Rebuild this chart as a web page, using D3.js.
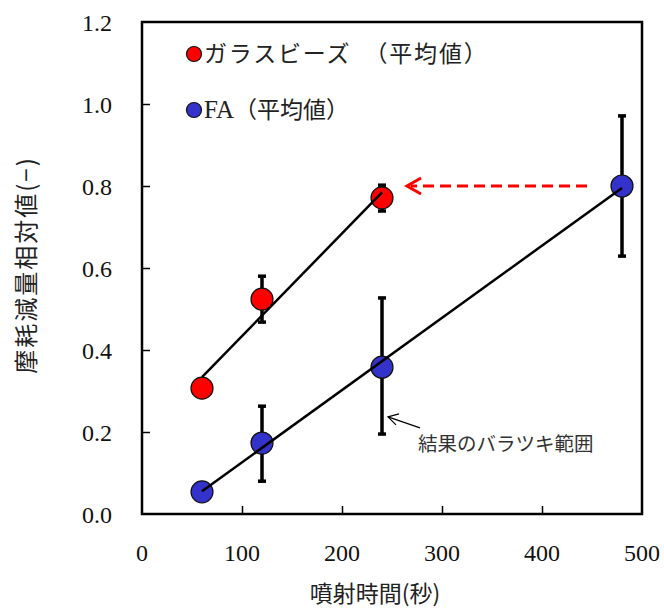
<!DOCTYPE html>
<html>
<head>
<meta charset="utf-8">
<script src="https://cdn.jsdelivr.net/npm/d3@7"></script>
<style>
  body { margin: 0; background: #fff; }
  svg { display: block; }
</style>
</head>
<body>
<svg id="chart"></svg>
<script>
// data
const glassTime = [60, 120, 240];
const glassMean = [0.307, 0.524, 0.771];
const glassLow  = [null, 0.468, 0.739];
const glassHigh = [null, 0.580, 0.802];

const faTime = [60, 120, 240, 480];
const faMean = [0.054, 0.173, 0.358, 0.800];
const faLow  = [null, 0.080, 0.195, 0.629];
const faHigh = [null, 0.263, 0.527, 0.971];

const xTicks = [0, 100, 200, 300, 400, 500];
const yTicks = [0, 0.2, 0.4, 0.6, 0.8, 1.0, 1.2];

const legendLabels = ["ガラスビーズ　（平均値）", "FA（平均値）"];
const xTitle = "噴射時間(秒)";
const yTitle = "摩耗減量相対値(−)";
const noteText = "結果のバラツキ範囲";

const W = 664, H = 608;
const margin = { left: 142, right: 22, top: 22, bottom: 94 };

const svg = d3.select("#chart").attr("width", W).attr("height", H);

const x = d3.scaleLinear().domain([0, 500]).range([margin.left, W - margin.right]);
const y = d3.scaleLinear().domain([0, 1.2]).range([H - margin.bottom, margin.top]);

const serif = "'Liberation Serif', 'DejaVu Serif', serif";
const jp = "'Noto Sans CJK JP', sans-serif";

// frame
svg.append("rect")
    .attr("x", x(0)).attr("y", y(1.2))
    .attr("width", x(500) - x(0)).attr("height", y(0) - y(1.2))
    .attr("fill", "none").attr("stroke", "#000").attr("stroke-width", 2.5);

// inward ticks
svg.append("g")
    .attr("transform", `translate(0,${y(0)})`)
    .call(d3.axisTop(x).tickValues(xTicks.slice(1, -1)).tickSize(8).tickFormat(""))
    .call(g => g.select(".domain").remove())
    .selectAll("line").attr("stroke-width", 1.5);

svg.append("g")
    .attr("transform", `translate(${x(0)},0)`)
    .call(d3.axisRight(y).tickValues(yTicks.slice(1, -1)).tickSize(8).tickFormat(""))
    .call(g => g.select(".domain").remove())
    .selectAll("line").attr("stroke-width", 1.5);

// tick labels
svg.append("g").selectAll("text")
    .data(xTicks).join("text")
    .attr("x", d => x(d)).attr("y", y(0) + 47)
    .attr("text-anchor", "middle")
    .attr("font-family", serif).attr("font-size", 24).attr("fill", "#111")
    .text(d => d);

svg.append("g").selectAll("text")
    .data(yTicks).join("text")
    .attr("x", x(0) - 30).attr("y", d => y(d) + 9)
    .attr("text-anchor", "end")
    .attr("font-family", serif).attr("font-size", 24).attr("fill", "#111")
    .text(d => d.toFixed(1));

// axis titles
svg.append("text")
    .attr("x", 375).attr("y", 602)
    .attr("text-anchor", "middle")
    .attr("font-family", jp).attr("font-size", 23).attr("fill", "#222")
    .text(xTitle);

svg.append("text")
    .attr("transform", `translate(35,265) rotate(-90)`)
    .attr("text-anchor", "middle")
    .attr("font-family", jp).attr("font-size", 24).attr("fill", "#222")
    .attr("letter-spacing", 2)
    .text(yTitle);

// least-squares trend line, drawn over the data's x range
function fit(xs, ys) {
    const mx = d3.mean(xs), my = d3.mean(ys);
    const sxy = d3.sum(xs, (v, i) => (v - mx) * (ys[i] - my));
    const sxx = d3.sum(xs, v => (v - mx) * (v - mx));
    const b = sxy / sxx, a = my - b * mx;
    const x0 = d3.min(xs), x1 = d3.max(xs);
    return [[x0, a + b * x0], [x1, a + b * x1]];
}

const series = [
    { t: glassTime, m: glassMean, lo: glassLow, hi: glassHigh, fill: "#ff0000" },
    { t: faTime, m: faMean, lo: faLow, hi: faHigh, fill: "#3333cc" }
];

series.forEach(s => {
    const pts = s.t.map((t, i) => ({ t, m: s.m[i], lo: s.lo[i], hi: s.hi[i] }));
    const bars = pts.filter(d => d.lo != null);

    const eb = svg.append("g").attr("stroke", "#000");
    eb.selectAll(".v").data(bars).join("line")
        .attr("x1", d => x(d.t)).attr("x2", d => x(d.t))
        .attr("y1", d => y(d.lo)).attr("y2", d => y(d.hi))
        .attr("stroke-width", 3.5);
    eb.selectAll(".c").data(bars.flatMap(d => [[d.t, d.lo], [d.t, d.hi]])).join("line")
        .attr("x1", d => x(d[0]) - 4).attr("x2", d => x(d[0]) + 4)
        .attr("y1", d => y(d[1])).attr("y2", d => y(d[1]))
        .attr("stroke-width", 3.5);

    svg.append("g").selectAll("circle").data(pts).join("circle")
        .attr("cx", d => x(d.t)).attr("cy", d => y(d.m)).attr("r", 11)
        .attr("fill", s.fill).attr("stroke", "#111").attr("stroke-width", 1.2);

    svg.append("path")
        .datum(fit(s.t, s.m))
        .attr("d", d3.line().x(d => x(d[0])).y(d => y(d[1])))
        .attr("fill", "none").attr("stroke", "#000").attr("stroke-width", 2.5);
});

// legend
const legend = svg.append("g");
legendLabels.forEach((lab, i) => {
    const ly = 54 + i * 56;
    legend.append("circle")
        .attr("cx", 194).attr("cy", ly).attr("r", 7.5)
        .attr("fill", series[i].fill).attr("stroke", "#111").attr("stroke-width", 1.2);
    const t = legend.append("text")
        .attr("x", 204).attr("y", ly + 8)
        .attr("font-family", jp).attr("font-size", 23).attr("fill", "#222");
    if (i === 1) {
        t.append("tspan").attr("font-family", serif).attr("font-size", 25).text("FA");
        t.append("tspan").text(lab.slice(2));
    } else {
        t.attr("letter-spacing", 1.8).text(lab);
    }
});

// red dashed arrow: FA at 480 s reaches what glass beads reach at 240 s
const arrY = y(0.8);
const arrTip = x(265);
svg.append("line")
    .attr("x1", x(445)).attr("x2", arrTip + 4)
    .attr("y1", arrY).attr("y2", arrY)
    .attr("stroke", "#ff0000").attr("stroke-width", 3)
    .attr("stroke-dasharray", "11,6");
svg.append("path")
    .attr("d", `M${arrTip + 14},${arrY - 8} L${arrTip},${arrY} L${arrTip + 14},${arrY + 8}`)
    .attr("fill", "none").attr("stroke", "#ff0000").attr("stroke-width", 3);

// annotation of the scatter range
const nx = x(246), ny = y(0.237);
svg.append("line")
    .attr("x1", nx).attr("y1", ny).attr("x2", nx + 32).attr("y2", ny + 11)
    .attr("stroke", "#000").attr("stroke-width", 1.2);
svg.append("path")
    .attr("d", `M${nx + 11},${ny - 3} L${nx},${ny} L${nx + 8},${ny + 8}`)
    .attr("fill", "none").attr("stroke", "#000").attr("stroke-width", 1.2);
svg.append("text")
    .attr("x", 418).attr("y", 451)
    .attr("font-family", jp).attr("font-size", 19.5).attr("fill", "#333")
    .text(noteText);
</script>
</body>
</html>
